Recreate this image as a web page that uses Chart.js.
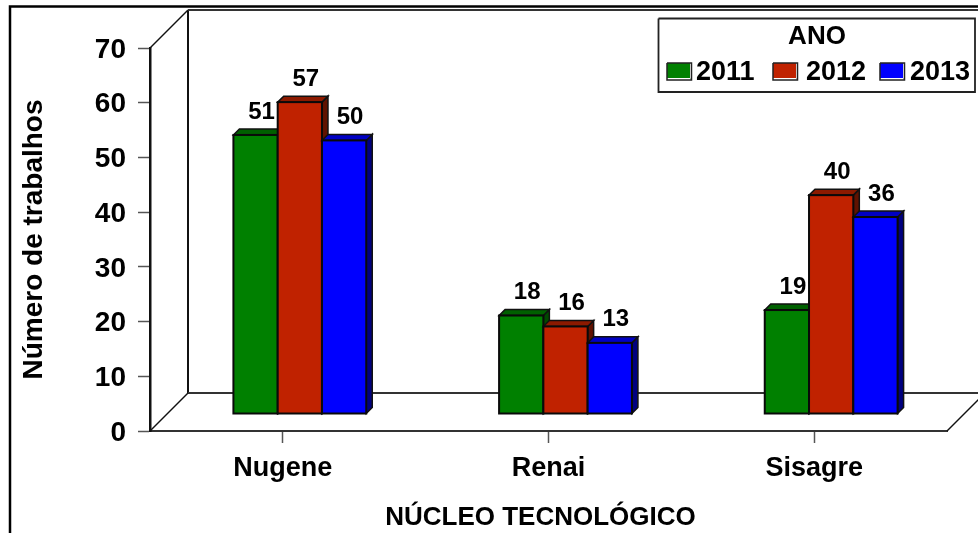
<!DOCTYPE html>
<html>
<head>
<meta charset="utf-8">
<style>
  html, body { margin: 0; padding: 0; background: #fff; overflow: hidden; }
</style>
<script src="https://cdn.jsdelivr.net/npm/chart.js@4"></script>
</head>
<body>
<canvas id="chart" width="978" height="533"></canvas>
<script>
  const nucleos = ["Nugene", "Renai", "Sisagre"];
  const anos = ["2011", "2012", "2013"];
  const valores2011 = [51, 18, 19];
  const valores2012 = [57, 16, 40];
  const valores2013 = [50, 13, 36];

  const fonte = '"Liberation Sans", Arial, sans-serif';
  const corFrente = ["#008000", "#c02200", "#0000ff"];
  const corTopo = ["#006000", "#8c1a00", "#0000c4"];
  const corLado = ["#004a00", "#601200", "#000080"];

  const prof = 38; // depth of the floor and the walls
  const profBarra = 6; // depth of each bar
  const desloc = 17; // bars stand a bit behind the front edge

  function linha(ctx, pts, cor, larg) {
    ctx.beginPath();
    pts.forEach((p, i) => (i ? ctx.lineTo(p[0], p[1]) : ctx.moveTo(p[0], p[1])));
    ctx.strokeStyle = cor;
    ctx.lineWidth = larg;
    ctx.stroke();
  }
  function face(ctx, pts, cor) {
    ctx.beginPath();
    pts.forEach((p, i) => (i ? ctx.lineTo(p[0], p[1]) : ctx.moveTo(p[0], p[1])));
    ctx.closePath();
    ctx.fillStyle = cor;
    ctx.fill();
    ctx.strokeStyle = "#111";
    ctx.lineWidth = 1.5;
    ctx.stroke();
  }

  const efeito3d = {
    id: "efeito3d",
    beforeDraw(chart) {
      const ctx = chart.ctx;
      ctx.save();
      ctx.fillStyle = "#fff";
      ctx.fillRect(0, 0, chart.width, chart.height);
      // outer frame, it runs off the right and bottom of the picture
      linha(ctx, [[10, 533], [10, 6.5], [978, 6.5]], "#000", 2.5);
      ctx.restore();
    },
    beforeDatasetsDraw(chart) {
      const ctx = chart.ctx;
      const a = chart.chartArea;
      ctx.save();
      linha(ctx, [[a.left + prof, a.bottom - prof], [a.left + prof, a.top - prof]], "#111", 2);
      linha(ctx, [[a.left + prof, a.top - prof], [978, a.top - prof]], "#333", 2);
      linha(ctx, [[a.left + prof, a.bottom - prof], [978, a.bottom - prof]], "#333", 1.8);
      linha(ctx, [[a.left, a.top], [a.left + prof, a.top - prof]], "#111", 1.5);
      linha(ctx, [[a.left, a.bottom], [a.left + prof, a.bottom - prof]], "#111", 1.5);
      linha(ctx, [[a.right, a.bottom], [a.right + prof, a.bottom - prof]], "#111", 1.5);

      // Chart.js paints the last dataset first, here the later ones must cover the sides of the earlier ones
      ctx.save();
      ctx.translate(desloc, -desloc);
      chart.data.datasets.forEach((ds, i) => {
        const meta = chart.getDatasetMeta(i);
        meta.data.forEach((bar) => {
          const p = bar.getProps(["x", "y", "base", "width"], true);
          const e = p.x - p.width / 2, d = p.x + p.width / 2;
          face(ctx, [[d, p.y], [d + profBarra, p.y - profBarra], [d + profBarra, p.base - profBarra], [d, p.base]], corLado[i]);
          face(ctx, [[e, p.y], [e + profBarra, p.y - profBarra], [d + profBarra, p.y - profBarra], [d, p.y]], corTopo[i]);
        });
        meta.controller.draw();
        meta.data.forEach((bar) => {
          const p = bar.getProps(["x", "y", "base", "width"], true);
          ctx.strokeStyle = "#0a0a0a";
          ctx.lineWidth = 2;
          ctx.strokeRect(p.x - p.width / 2, p.y, p.width, p.base - p.y);
        });
      });
      ctx.restore();

      // value labels, above the back right of each bar
      ctx.font = "bold 24px " + fonte;
      ctx.fillStyle = "#000";
      ctx.textAlign = "center";
      ctx.textBaseline = "middle";
      chart.data.datasets.forEach((ds, i) => {
        chart.getDatasetMeta(i).data.forEach((bar, j) => {
          ctx.fillText(ds.data[j], bar.x + desloc + 6, bar.y - desloc - 23);
        });
      });

      // x axis title
      ctx.font = "bold 26px " + fonte;
      ctx.fillText("NÚCLEO TECNOLÓGICO", 540.5, 518);

      // legend box
      ctx.fillStyle = "#fff";
      ctx.fillRect(658.5, 18.5, 316.5, 73.5);
      linha(ctx, [[658.5, 18.5], [975, 18.5], [975, 92], [658.5, 92], [658.5, 18.5]], "#222", 1.8);
      ctx.fillStyle = "#000";
      ctx.fillText("ANO", 817, 37);
      const caixaX = [667, 773, 880];
      const textoX = [696, 806, 910];
      ctx.font = "bold 27px " + fonte;
      ctx.textAlign = "left";
      chart.data.datasets.forEach((ds, i) => {
        ctx.fillStyle = corFrente[i];
        ctx.fillRect(caixaX[i], 63, 24, 16);
        linha(ctx, [[caixaX[i], 78.5], [caixaX[i] + 23.5, 78.5], [caixaX[i] + 23.5, 63]], "#fff", 1);
        linha(ctx, [[caixaX[i], 63], [caixaX[i] + 24.5, 63], [caixaX[i] + 24.5, 80], [caixaX[i], 80], [caixaX[i], 63]], "#222", 1.5);
        ctx.fillStyle = "#000";
        ctx.fillText(ds.label, textoX[i], 73);
      });
      ctx.restore();
      return false;
    },
  };

  new Chart(document.getElementById("chart"), {
    type: "bar",
    data: {
      labels: nucleos,
      datasets: [
        { label: anos[0], data: valores2011, backgroundColor: corFrente[0] },
        { label: anos[1], data: valores2012, backgroundColor: corFrente[1] },
        { label: anos[2], data: valores2013, backgroundColor: corFrente[2] },
      ],
    },
    options: {
      responsive: false,
      animation: false,
      events: [],
      layout: { padding: { top: 48, right: 31, left: 0, bottom: 0 } },
      categoryPercentage: 0.5,
      barPercentage: 1,
      borderWidth: 0,
      plugins: {
        legend: { display: false },
        tooltip: { enabled: false },
      },
      scales: {
        x: {
          afterFit(scale) { scale.height = 102; },
          grid: {
            offset: false,
            drawOnChartArea: false,
            tickLength: 12,
            tickColor: "#555",
            tickWidth: 1.5,
          },
          border: { color: "#333", width: 2 },
          ticks: {
            color: "#000",
            padding: 9,
            maxRotation: 0,
            font: { family: fonte, size: 27, weight: "bold" },
          },
        },
        y: {
          min: 0,
          max: 70,
          afterFit(scale) { scale.width = 150; },
          title: {
            display: true,
            text: "Número de trabalhos",
            color: "#000",
            padding: { top: 20, bottom: 0 },
            font: { family: fonte, size: 28, weight: "bold", lineHeight: 1 },
          },
          grid: {
            drawOnChartArea: false,
            tickLength: 12,
            tickColor: "#555",
            tickWidth: 1.5,
          },
          border: { color: "#111", width: 2.5 },
          ticks: {
            stepSize: 10,
            color: "#000",
            padding: 12,
            labelOffset: 2,
            font: { family: fonte, size: 28, weight: "bold" },
          },
        },
      },
    },
    plugins: [efeito3d],
  });
</script>
</body>
</html>
